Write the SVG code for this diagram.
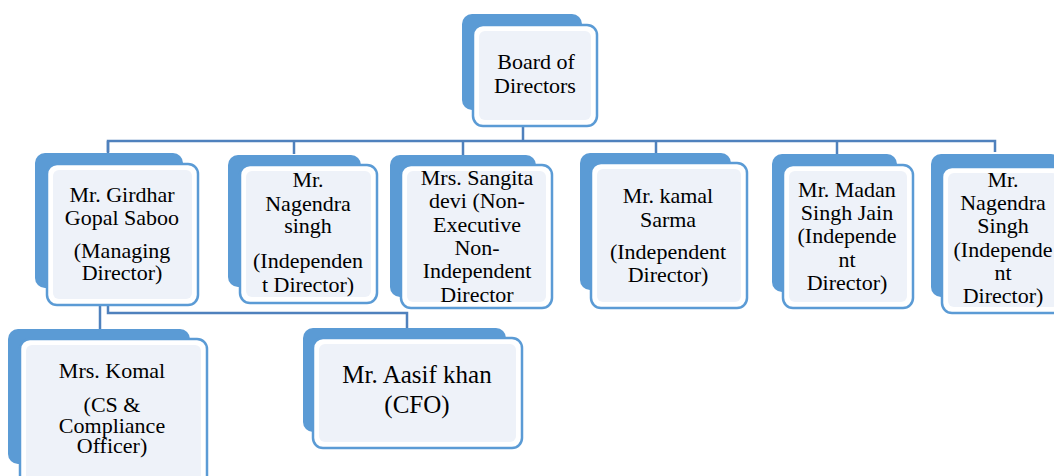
<svg xmlns="http://www.w3.org/2000/svg" width="1054" height="476" viewBox="0 0 1054 476">
<style>
.back{fill:#5B9BD5;}
.front{fill:#ffffff;stroke:#5B9BD5;stroke-width:2.5;}
.inner{fill:#EEF2F9;}
.conn{fill:none;stroke:#4F81BD;stroke-width:2.5;}
text{font-family:"Liberation Serif","Times New Roman",serif;font-size:22px;fill:#000;text-anchor:middle;}
.big{font-size:25px;}
</style>
<rect width="1054" height="476" fill="#ffffff"/>
<g id="connectors">
<path class="conn" d="M523,126 V141"/>
<path class="conn" d="M108,152 V141 H995 V152"/>
<path class="conn" d="M294,141 V154"/>
<path class="conn" d="M463,141 V156"/>
<path class="conn" d="M656,141 V154"/>
<path class="conn" d="M837,141 V155"/>
<path class="conn" d="M108,141 V313 H407 V330"/>
<path class="conn" d="M100,290 V330"/>
</g>
<g id="board">
<rect class="back" x="462" y="14" width="120" height="96" rx="10"/>
<rect class="front" x="473" y="25" width="124" height="101" rx="10"/>
<rect class="inner" x="479" y="31" width="112" height="89" rx="6"/>
<text x="536" y="69">Board of</text>
<text x="535" y="93">Directors</text>
</g>
<g id="girdhar">
<rect class="back" x="35" y="153" width="148" height="135" rx="10"/>
<rect class="front" x="47" y="164" width="151" height="141" rx="10"/>
<rect class="inner" x="53" y="170" width="139" height="129" rx="6"/>
<text x="122" y="202">Mr. Girdhar</text>
<text x="122" y="225">Gopal Saboo</text>
<text x="122" y="258">(Managing</text>
<text x="122" y="280">Director)</text>
</g>
<g id="nagendra1">
<rect class="back" x="228" y="155" width="133" height="132" rx="10"/>
<rect class="front" x="240" y="165" width="137" height="138" rx="10"/>
<rect class="inner" x="246" y="171" width="125" height="126" rx="6"/>
<text x="308" y="187">Mr.</text>
<text x="308" y="211">Nagendra</text>
<text x="308" y="233">singh</text>
<text x="308" y="268">(Independen</text>
<text x="308" y="292">t Director)</text>
</g>
<g id="sangita">
<rect class="back" x="390" y="155" width="146" height="142" rx="10"/>
<rect class="front" x="401" y="165" width="151" height="143" rx="10"/>
<rect class="inner" x="407" y="171" width="139" height="131" rx="6"/>
<text x="477" y="185">Mrs. Sangita</text>
<text x="477" y="208">devi (Non-</text>
<text x="477" y="232">Executive</text>
<text x="477" y="255">Non-</text>
<text x="477" y="278">Independent</text>
<text x="477" y="302">Director</text>
</g>
<g id="kamal">
<rect class="back" x="580" y="153" width="151" height="137" rx="10"/>
<rect class="front" x="591" y="163" width="156" height="145" rx="10"/>
<rect class="inner" x="597" y="169" width="144" height="133" rx="6"/>
<text x="668" y="203">Mr. kamal</text>
<text x="668" y="227">Sarma</text>
<text x="668" y="259">(Independent</text>
<text x="668" y="282">Director)</text>
</g>
<g id="madan">
<rect class="back" x="772" y="154" width="125" height="138" rx="10"/>
<rect class="front" x="783" y="165" width="130" height="143" rx="10"/>
<rect class="inner" x="789" y="171" width="118" height="131" rx="6"/>
<text x="847" y="197">Mr. Madan</text>
<text x="847" y="220">Singh Jain</text>
<text x="847" y="243">(Independe</text>
<text x="847" y="267">nt</text>
<text x="847" y="290">Director)</text>
</g>
<g id="nagendra2">
<rect class="back" x="931" y="154" width="130" height="143" rx="10"/>
<rect class="front" x="942" y="167" width="122" height="146" rx="10"/>
<rect class="inner" x="948" y="173" width="110" height="134" rx="6"/>
<text x="1003" y="187">Mr.</text>
<text x="1003" y="210">Nagendra</text>
<text x="1003" y="233">Singh</text>
<text x="1003" y="257">(Independe</text>
<text x="1003" y="280">nt</text>
<text x="1003" y="303">Director)</text>
</g>
<g id="komal">
<rect class="back" x="8" y="329" width="182" height="135" rx="10"/>
<rect class="front" x="20" y="339" width="187" height="150" rx="10"/>
<rect class="inner" x="26" y="345" width="175" height="138" rx="6"/>
<text x="112" y="378">Mrs. Komal</text>
<text x="112" y="412">(CS &amp;</text>
<text x="112" y="433">Compliance</text>
<text x="112" y="453">Officer)</text>
</g>
<g id="aasif">
<rect class="back" x="303" y="328" width="203" height="104" rx="10"/>
<rect class="front" x="313" y="338" width="209" height="110" rx="10"/>
<rect class="inner" x="319" y="344" width="197" height="98" rx="6"/>
<text class="big" x="417" y="383">Mr. Aasif khan</text>
<text class="big" x="417" y="413">(CFO)</text>
</g>
</svg>
